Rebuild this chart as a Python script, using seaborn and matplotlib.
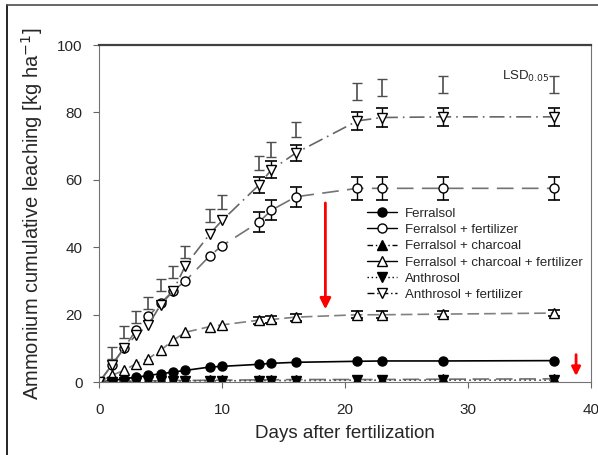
import numpy as np
import pandas as pd
import matplotlib
matplotlib.use("Agg")
import matplotlib.pyplot as plt
import seaborn as sns
from matplotlib.lines import Line2D

# Sampling days
days = [0, 1, 2, 3, 4, 5, 6, 7, 9, 10, 13, 14, 16, 21, 23, 28, 37]

# Cumulative ammonium leaching [kg ha-1]
ferralsol = [0, 0.5, 1.0, 1.5, 2.0, 2.5, 3.0, 3.5, 4.5, 4.7, 5.3, 5.6, 5.9, 6.2, 6.3, 6.3, 6.4]
ferralsol_fert = [0, 5, 10, 15.5, 19.5, 23.5, 27, 30, 37.5, 40.5, 47.5, 51, 55, 57.5, 57.5, 57.5, 57.5]
ferralsol_char = [0, 0.2, 0.3, 0.3, 0.4, 0.4, 0.5, 0.5, 0.6, 0.6, 0.7, 0.7, 0.8, 0.8, 0.8, 0.9, 1.0]
ferralsol_char_fert = [0, 2, 3.5, 5.5, 7, 9.5, 12.4, 14.8, 16.5, 17, 18.4, 18.6, 19.3, 20, 20, 20.2, 20.5]
anthrosol = [0, 0.1, 0.2, 0.2, 0.3, 0.3, 0.3, 0.4, 0.4, 0.4, 0.5, 0.5, 0.5, 0.6, 0.6, 0.6, 0.6]
anthrosol_fert = [0, 5, 10, 14, 17, 23, 27, 34.5, 44, 48, 58.5, 63, 68, 77.5, 78.5, 78.7, 78.7]

# standard errors shown on the later sampling dates
err_days = [13, 14, 16, 21, 23, 28, 37]
ferralsol_fert_err = [3, 3, 3, 3.5, 3.5, 3.5, 3.5]
anthrosol_fert_err = [2.5, 2.5, 2.5, 2.7, 2.7, 2.7, 2.7]
ferralsol_char_fert_err = [1, 1, 1, 1, 1, 1, 1]

# LSD 0.05 bars
lsd_days = [1, 2, 3, 4, 5, 6, 7, 9, 10, 13, 14, 16, 21, 23, 28, 37]
lsd_center = [8.6, 14.9, 19.4, 23.4, 28.8, 32.7, 38.7, 49.5, 53.5, 65, 69, 75, 86.2, 87.3, 88.4, 88.4]
lsd_half = [1.8, 1.8, 1.8, 1.8, 1.8, 1.8, 1.8, 2, 2, 2.2, 2.2, 2.2, 2.5, 2.5, 2.5, 2.5]

labels = ["Ferralsol", "Ferralsol + fertilizer", "Ferralsol + charcoal",
          "Ferralsol + charcoal + fertilizer", "Anthrosol", "Anthrosol + fertilizer"]
series = [ferralsol, ferralsol_fert, ferralsol_char, ferralsol_char_fert, anthrosol, anthrosol_fert]

sns.set_style("ticks")
plt.rcParams['font.family'] = ['Liberation Sans', 'DejaVu Sans']

fig = plt.figure(figsize=(5.98, 4.55), dpi=100)
ax = fig.add_axes([0.166, 0.160, 0.822, 0.741])

# marker, face colour, line colour, dashes
styles = [
    ("o", "black", "black", (None, None)),
    ("o", "white", "0.45", (10, 5)),
    ("^", "black", "0.45", (10, 4)),
    ("^", "white", "0.5", (7, 3)),
    ("v", "black", "0.3", (1, 2)),
    ("v", "white", "0.4", (9, 3, 1, 3)),
]

for vals, lab, (mk, fc, lc, ds) in zip(series, labels, styles):
    df = pd.DataFrame({"day": days, "value": vals})
    sns.lineplot(data=df, x="day", y="value", ax=ax, color=lc, lw=1.2,
                 marker=mk, markersize=6.5, markerfacecolor=fc,
                 markeredgecolor="black", markeredgewidth=1.0,
                 dashes=False, label=lab, legend=False)
    line = ax.lines[-1]
    if ds[0] is not None:
        line.set_dashes(ds)

# error bars on treated soils
idx = [days.index(d) for d in err_days]
for vals, errs in [(ferralsol_fert, ferralsol_fert_err),
                   (anthrosol_fert, anthrosol_fert_err),
                   (ferralsol_char_fert, ferralsol_char_fert_err)]:
    ax.errorbar(err_days, [vals[i] for i in idx], yerr=errs, fmt="none",
                ecolor="black", elinewidth=1, capsize=4, capthick=1.2, zorder=1)

# LSD bars
ax.errorbar(lsd_days, lsd_center, yerr=lsd_half, fmt="none", ecolor="0.3",
            elinewidth=1.2, capsize=3.5, capthick=1)
ax.text(32.8, 88.5, "LSD$_{0.05}$", fontsize=9.5, ha="left", va="bottom")

# red arrows
ax.annotate("", xy=(18.4, 20.8), xytext=(18.4, 54),
            arrowprops=dict(arrowstyle="-|>", color="red", lw=2, mutation_scale=16))
ax.annotate("", xy=(38.8, 1.0), xytext=(38.8, 9),
            arrowprops=dict(arrowstyle="-|>", color="red", lw=2, mutation_scale=13))

ax.set_xlim(0, 40)
ax.set_ylim(0, 100)
ax.set_xticks([0, 10, 20, 30, 40])
ax.set_yticks([0, 20, 40, 60, 80, 100])
ax.tick_params(labelsize=11, color="0.4", length=4)
ax.tick_params(axis="y", pad=8)
ax.tick_params(axis="x", pad=11)
ax.set_xlabel("Days after fertilization", fontsize=13.5, labelpad=6)
ax.set_ylabel("Ammonium cumulative leaching [kg ha$^{-1}$]", fontsize=14.5, labelpad=9)
for s in ["left", "bottom", "right"]:
    ax.spines[s].set_color("0.45")
ax.spines["top"].set_color("0.25")
ax.spines["top"].set_linewidth(1.6)

handles = []
legend_dashes = [(None, None), (None, None), (4, 2, 1, 2), (None, None), (1, 2), (5, 2, 1, 2)]
for (mk, fc, lc, ds), ld in zip(styles, legend_dashes):
    h = Line2D([0], [0], color="black", lw=1, marker=mk, markersize=6.5,
               markerfacecolor=fc, markeredgecolor="black")
    if ld[0] is not None:
        h.set_dashes(ld)
    handles.append(h)
ax.legend(handles, labels, loc="upper left", bbox_to_anchor=(0.525, 0.545),
          frameon=False, fontsize=9.5, handlelength=2.3, handletextpad=0.6,
          labelspacing=0.3, borderpad=0.2)

# image border from the original figure
fig.add_artist(Line2D([0.012, 0.012], [0.0, 0.99], transform=fig.transFigure, color="black", lw=1.2))
fig.add_artist(Line2D([0.012, 1.0], [0.99, 0.99], transform=fig.transFigure, color="0.3", lw=1.2))

fig.savefig("out.png", dpi=100)
